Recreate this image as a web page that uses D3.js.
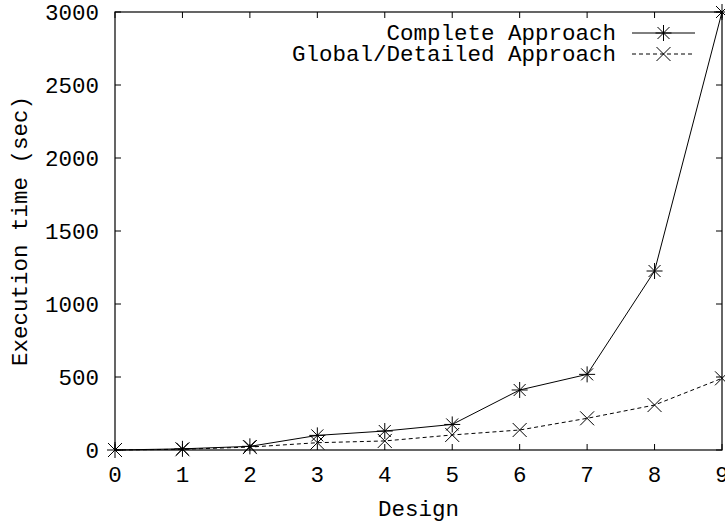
<!DOCTYPE html>
<html>
<head>
<meta charset="utf-8">
<script src="https://cdn.jsdelivr.net/npm/d3@7"></script>
<style>
  body { margin: 0; background: #fff; }
  text { font-family: "Liberation Mono", "Courier New", monospace; fill: #000; }
</style>
</head>
<body>
<svg id="chart" width="725" height="522"></svg>
<script>
// designs on the x axis
const designs = [0, 1, 2, 3, 4, 5, 6, 7, 8, 9];
// execution time (sec)
const completeTimes = [0, 8, 25, 100, 130, 175, 411, 518, 1226, 3000];
const globalTimes = [0, 5, 20, 50, 62, 103, 137, 217, 308, 491];
const yTicks = [0, 500, 1000, 1500, 2000, 2500, 3000];
const seriesNames = ['Complete Approach', 'Global/Detailed Approach'];

const margin = { top: 12, right: 3, bottom: 72, left: 115 };
const width = 725 - margin.left - margin.right;
const height = 522 - margin.top - margin.bottom;
const fontSize = 22.5;

const svg = d3.select('#chart');
const g = svg.append('g').attr('transform', `translate(${margin.left},${margin.top})`);

const x = d3.scaleLinear().domain([0, 9]).range([0, width]);
const y = d3.scaleLinear().domain([0, 3000]).range([height, 0]);

// inward ticks on all four sides (gnuplot style)
const tickLen = 6;
g.selectAll('.xtick-b')
    .data(designs)
    .join('line')
    .attr('x1', d => x(d)).attr('x2', d => x(d))
    .attr('y1', height).attr('y2', height - tickLen)
    .attr('stroke', '#000');
g.selectAll('.xtick-t')
    .data(designs)
    .join('line')
    .attr('x1', d => x(d)).attr('x2', d => x(d))
    .attr('y1', 0).attr('y2', tickLen)
    .attr('stroke', '#000');
g.selectAll('.ytick-l')
    .data(yTicks)
    .join('line')
    .attr('x1', 0).attr('x2', tickLen)
    .attr('y1', d => y(d)).attr('y2', d => y(d))
    .attr('stroke', '#000');
g.selectAll('.ytick-r')
    .data(yTicks)
    .join('line')
    .attr('x1', width).attr('x2', width - tickLen)
    .attr('y1', d => y(d)).attr('y2', d => y(d))
    .attr('stroke', '#000');

// tick labels
g.append('g').selectAll('text')
    .data(designs)
    .join('text')
    .attr('x', d => x(d))
    .attr('y', height + 32)
    .attr('text-anchor', 'middle')
    .attr('font-size', fontSize)
    .text(d => d);

g.append('g').selectAll('text')
    .data(yTicks)
    .join('text')
    .attr('x', -16)
    .attr('y', d => y(d))
    .attr('dy', '0.35em')
    .attr('text-anchor', 'end')
    .attr('font-size', fontSize)
    .text(d => d);

// border
g.append('rect')
    .attr('width', width)
    .attr('height', height)
    .attr('fill', 'none')
    .attr('stroke', '#000')
    .attr('stroke-width', 1.2);

// axis titles
g.append('text')
    .attr('x', width / 2)
    .attr('y', height + 66)
    .attr('text-anchor', 'middle')
    .attr('font-size', fontSize)
    .text('Design');

g.append('text')
    .attr('transform', `translate(${-margin.left + 27},${height / 2}) rotate(-90)`)
    .attr('text-anchor', 'middle')
    .attr('font-size', fontSize)
    .text('Execution time (sec)');

// markers
function drawStar(sel, cx, cy, r) {
    const d = r * 0.75;
    sel.append('path')
        .attr('d', `M${cx - r},${cy}H${cx + r}M${cx},${cy - r}V${cy + r}` +
            `M${cx - d},${cy - d}L${cx + d},${cy + d}M${cx - d},${cy + d}L${cx + d},${cy - d}`)
        .attr('stroke', '#000')
        .attr('fill', 'none');
}
function drawCross(sel, cx, cy, r) {
    sel.append('path')
        .attr('d', `M${cx - r},${cy - r}L${cx + r},${cy + r}M${cx - r},${cy + r}L${cx + r},${cy - r}`)
        .attr('stroke', '#000')
        .attr('fill', 'none');
}

const line = d3.line().x(d => x(d[0])).y(d => y(d[1]));
const completeData = designs.map((d, i) => [d, completeTimes[i]]);
const globalData = designs.map((d, i) => [d, globalTimes[i]]);

g.append('path')
    .datum(completeData)
    .attr('d', line)
    .attr('fill', 'none')
    .attr('stroke', '#000');

g.append('path')
    .datum(globalData)
    .attr('d', line)
    .attr('fill', 'none')
    .attr('stroke', '#000')
    .attr('stroke-dasharray', '4,3');

const marks = g.append('g');
completeData.forEach(d => drawStar(marks, x(d[0]), y(d[1]), 8));
globalData.forEach(d => drawCross(marks, x(d[0]), y(d[1]), 7));

// legend
const legend = svg.append('g');
const legendRows = [40, 61];
legend.selectAll('text')
    .data(seriesNames)
    .join('text')
    .attr('x', 616)
    .attr('y', (d, i) => legendRows[i])
    .attr('text-anchor', 'end')
    .attr('font-size', fontSize)
    .text(d => d);

legend.append('line')
    .attr('x1', 632).attr('x2', 695)
    .attr('y1', legendRows[0] - 7).attr('y2', legendRows[0] - 7)
    .attr('stroke', '#000');
drawStar(legend, 663.5, legendRows[0] - 7, 8);

legend.append('line')
    .attr('x1', 632).attr('x2', 695)
    .attr('y1', legendRows[1] - 7).attr('y2', legendRows[1] - 7)
    .attr('stroke', '#000')
    .attr('stroke-dasharray', '4,3');
drawCross(legend, 663.5, legendRows[1] - 7, 7);
</script>
</body>
</html>
